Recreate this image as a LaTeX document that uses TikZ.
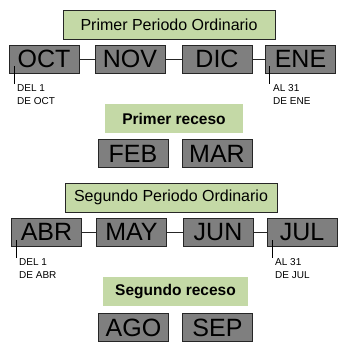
\documentclass[tikz,border=0pt]{standalone}
\usepackage{fontspec}
\setmainfont{Liberation Sans}
\definecolor{periodgreen}{HTML}{C4D9A6}
\definecolor{monthgray}{HTML}{7F7F7F}

\begin{document}
\begin{tikzpicture}[
    x=1pt, y=-1pt, % pixel-like coordinates
    period/.style={draw=black!85, fill=periodgreen, thin, minimum width=212pt, minimum height=29pt,
        inner sep=0pt, font=\fontsize{16}{16}\selectfont},
    recess/.style={fill=periodgreen, minimum height=29pt, inner sep=0pt,
        font=\fontsize{15.5}{15.5}\selectfont\bfseries},
    month/.style={draw=black!85, fill=monthgray, thin, minimum width=70pt, minimum height=28pt,
        inner sep=0pt, font=\fontsize{25}{25}\selectfont},
    link/.style={black!85, thin},
    tick/.style={black, semithick},
    note/.style={anchor=north west, align=left, inner sep=0pt,
        font=\fontsize{10}{13}\selectfont}
]
\useasboundingbox (0,0) rectangle (342,342);

% Primer periodo
\node[period] (per1) at (169,24.5) {Primer Periodo Ordinario};
\node[month] (oct) at (44,59) {OCT};
\node[month] (nov) at (130,59) {NOV};
\node[month] (dic) at (217,59) {DIC};
\node[month] (ene) at (300.5,59) {ENE};
\draw[link] (oct) -- (nov);
\draw[link] (nov) -- (dic);
\draw[link] (dic) -- (ene);

% Fechas
\coordinate (octtick) at (14,66);
\coordinate (enetick) at (269,66);
\draw[tick] (octtick) -- ++(0,18);
\draw[tick] (enetick) -- ++(0,18);
\node[note] (octnote) at (17,84) {DEL 1\\DE OCT};
\node[note] (enenote) at (273,84) {AL 31\\DE ENE};

% Primer receso
\node[recess, minimum width=138pt] (rec1) at (174,118.5) {Primer receso};
\node[month] (feb) at (133,153.5) {FEB};
\node[month] (mar) at (217,153.5) {MAR};

% Segundo periodo
\node[period] (per2) at (171,197.5) {Segundo Periodo Ordinario};
\node[month] (abr) at (46.5,232) {ABR};
\node[month] (may) at (131.5,232) {MAY};
\node[month] (jun) at (218,232) {JUN};
\node[month] (jul) at (302,232) {JUL};
\draw[link] (abr) -- (may);
\draw[link] (may) -- (jun);
\draw[link] (jun) -- (jul);

% Fechas
\coordinate (abrtick) at (16,240);
\coordinate (jultick) at (272,240);
\draw[tick] (abrtick) -- ++(0,18);
\draw[tick] (jultick) -- ++(0,18);
\node[note] (abrnote) at (19,258) {DEL 1\\DE ABR};
\node[note] (julnote) at (275,258) {AL 31\\DE JUL};

% Segundo receso
\node[recess, minimum width=145pt] (rec2) at (175.5,291.5) {Segundo receso};
\node[month] (ago) at (133.5,327.5) {AGO};
\node[month] (sep) at (217.5,327.5) {SEP};

\end{tikzpicture}
\end{document}
